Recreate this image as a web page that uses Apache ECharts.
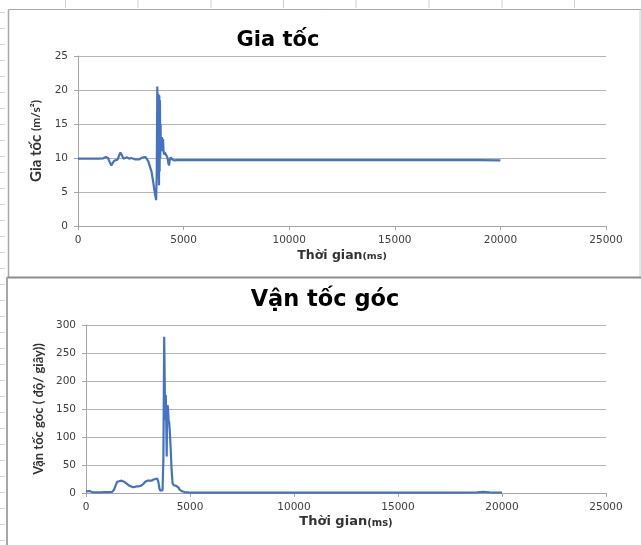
<!DOCTYPE html>
<html>
<head>
<meta charset="utf-8">
<script src="https://cdn.jsdelivr.net/npm/echarts@6/dist/echarts.min.js"></script>
<style>
html,body{margin:0;padding:0;background:#fff;}
#c{width:641px;height:545px;}
</style>
</head>
<body>
<div id="c"></div>
<script>
// ---- Data: Gia tốc (acceleration, m/s²) vs time (ms)
var accTime = [0, 200, 400, 600, 800, 1000, 1200, 1320, 1420, 1500, 1580, 1650, 1720, 1800, 1880, 1950, 2010, 2080, 2150, 2230, 2320, 2420, 2520, 2620, 2720, 2800, 2900, 3000, 3100, 3200, 3260, 3330, 3400, 3480, 3560, 3640, 3700, 3730, 3755, 3775, 3790, 3805, 3820, 3835, 3850, 3865, 3880, 3895, 3910, 3925, 3940, 3960, 3980, 4000, 4025, 4050, 4080, 4110, 4150, 4200, 4240, 4280, 4310, 4340, 4390, 4450, 4550, 4700, 5000, 6000, 7000, 8000, 9000, 10000, 11000, 12000, 13000, 14000, 15000, 16000, 17000, 18000, 19000, 20000];
var accValue = [9.9, 9.9, 9.9, 9.9, 9.9, 9.9, 9.95, 10.15, 10.0, 9.4, 8.9, 9.3, 9.6, 9.5, 9.8, 10.4, 10.8, 10.4, 9.9, 10.0, 10.1, 9.9, 10.0, 9.9, 9.8, 9.7, 9.8, 10.0, 10.1, 10.15, 9.9, 9.5, 8.8, 8.0, 6.5, 4.8, 3.8, 8.0, 20.5, 12.0, 19.5, 7.0, 19.3, 6.0, 19.2, 8.0, 18.5, 10.0, 15.0, 11.0, 13.0, 11.5, 13.1, 11.0, 12.8, 11.0, 10.5, 10.8, 10.7, 10.3, 10.0, 9.2, 8.9, 9.6, 10.1, 9.8, 9.65, 9.7, 9.7, 9.68, 9.7, 9.68, 9.7, 9.68, 9.7, 9.68, 9.68, 9.7, 9.68, 9.68, 9.7, 9.68, 9.68, 9.66];

// ---- Data: Vận tốc góc (angular velocity, độ/giây) vs time (ms)
var angTime = [0, 80, 160, 250, 350, 500, 700, 900, 1100, 1250, 1350, 1430, 1500, 1580, 1680, 1780, 1880, 1960, 2050, 2150, 2250, 2350, 2450, 2550, 2650, 2750, 2850, 2950, 3050, 3150, 3250, 3340, 3420, 3480, 3530, 3580, 3630, 3680, 3720, 3760, 3790, 3810, 3835, 3860, 3880, 3900, 3920, 3945, 3970, 4000, 4030, 4070, 4110, 4160, 4210, 4260, 4320, 4380, 4440, 4500, 4560, 4620, 4700, 4800, 4900, 5000, 6000, 7000, 8000, 9000, 10000, 11000, 12000, 13000, 14000, 15000, 16000, 17000, 18000, 18800, 19100, 19400, 20000];
var angValue = [3, 4, 3.5, 1.5, 1, 1, 1, 1.5, 1.5, 2, 6, 14, 20, 21, 22, 21, 19, 17, 14, 12, 10.5, 11, 12, 12, 13, 16, 20, 22, 22, 22, 24, 26, 26, 20, 8, 4, 6, 5, 60, 279, 180, 130, 175, 120, 65, 140, 157, 150, 130, 125, 110, 80, 45, 18, 14, 15, 13, 14, 10, 6, 3, 3, 2, 1, 1, 0.5, 0.5, 0.5, 0.8, 0.5, 0.5, 0.6, 0.5, 0.5, 0.5, 0.5, 0.5, 0.6, 0.5, 1.0, 2.0, 1.0, 0.8];

// ---- Axis ticks
var xMax = 25000, xStep = 5000;
var accMax = 25, accStep = 5;
var angMax = 300, angStep = 50;

function pairs(t, v) { return t.map(function (x, i) { return [x, v[i]]; }); }

var LINE = '#4472C4';
var WIDE = '"DejaVu Sans", Verdana, sans-serif';
var NARROW = 'Lato, "Open Sans", sans-serif';
var labelStyle = { color: '#404040', fontSize: 10.5, fontFamily: WIDE, formatter: function (v) { return String(v); } };
var gridLine = { show: true, lineStyle: { color: '#b4b4b4', width: 1 } };
var axLine = { show: true, lineStyle: { color: '#a6a6a6', width: 1 } };
var axTick = { show: true, length: 4, lineStyle: { color: '#a6a6a6' } };

// decorative spreadsheet frame
var deco = [];
[65.5, 138, 211, 283.5, 356, 429, 502, 574.5].forEach(function (x) {
  deco.push({ type: 'line', shape: { x1: x, y1: 0, x2: x, y2: 8 }, style: { stroke: '#cfcfcf', lineWidth: 1 } });
});
for (var y = 12.5; y < 545; y += 16) {
  deco.push({ type: 'line', shape: { x1: 0, y1: y, x2: 5, y2: y }, style: { stroke: '#d6d6d6', lineWidth: 1 } });
}
deco.push({ type: 'line', shape: { x1: 8.5, y1: 9.5, x2: 641, y2: 9.5 }, style: { stroke: '#a8a8a8', lineWidth: 1 } });
deco.push({ type: 'line', shape: { x1: 8.5, y1: 9.5, x2: 8.5, y2: 277 }, style: { stroke: '#a8a8a8', lineWidth: 1.5 } });
deco.push({ type: 'line', shape: { x1: 640, y1: 9.5, x2: 640, y2: 277 }, style: { stroke: '#d0d0d0', lineWidth: 1 } });
deco.push({ type: 'line', shape: { x1: 7, y1: 277.5, x2: 641, y2: 277.5 }, style: { stroke: '#8e8e8e', lineWidth: 2 } });
deco.push({ type: 'line', shape: { x1: 7, y1: 277, x2: 7, y2: 545 }, style: { stroke: '#a8a8a8', lineWidth: 2 } });

function xName(size, small) {
  return {
    name: '{a|Thời gian}{b|(ms)}', nameLocation: 'middle',
    nameTextStyle: { rich: {
      a: { fontFamily: WIDE, fontWeight: 'bold', fontSize: size, color: '#333' },
      b: { fontFamily: WIDE, fontWeight: 'bold', fontSize: small, color: '#333', padding: [3, 0, 0, 0] } } }
  };
}

var chart = echarts.init(document.getElementById('c'), null, { renderer: 'canvas' });
chart.setOption({
  animation: false,
  backgroundColor: '#ffffff',
  title: [
    { text: 'Gia tốc', left: 273, top: 25, textAlign: 'center',
      textStyle: { fontFamily: WIDE, fontWeight: 'bold', fontSize: 21, color: '#000' } },
    { text: 'Vận tốc góc', left: 320, top: 284, textAlign: 'center',
      textStyle: { fontFamily: WIDE, fontWeight: 'bold', fontSize: 22.5, color: '#000' } }
  ],
  grid: [
    { left: 78, top: 56, width: 528, height: 170 },
    { left: 86, top: 325, width: 520, height: 168 }
  ],
  xAxis: [
    Object.assign({ type: 'value', gridIndex: 0, min: 0, max: xMax, interval: xStep,
      axisLine: axLine, axisTick: axTick, splitLine: { show: false },
      axisLabel: Object.assign({ margin: 9 }, labelStyle), nameGap: 23 }, xName(12.5, 9.5)),
    Object.assign({ type: 'value', gridIndex: 1, min: 0, max: xMax, interval: xStep,
      axisLine: axLine, axisTick: axTick, splitLine: { show: false },
      axisLabel: Object.assign({ margin: 9 }, labelStyle), nameGap: 22 }, xName(13, 10))
  ],
  yAxis: [
    { type: 'value', gridIndex: 0, min: 0, max: accMax, interval: accStep,
      axisLine: axLine, axisTick: axTick, splitLine: gridLine,
      axisLabel: Object.assign({ margin: 10 }, labelStyle),
      name: '{a|Gia tốc }{b|(m/s²)}', nameLocation: 'middle', nameGap: 29, nameRotate: 90,
      nameTextStyle: { rich: {
        a: { fontFamily: NARROW, fontWeight: 'bold', fontSize: 15, color: '#333' },
        b: { fontFamily: NARROW, fontWeight: 'bold', fontSize: 12, color: '#333' } } } },
    { type: 'value', gridIndex: 1, min: 0, max: angMax, interval: angStep,
      axisLine: axLine, axisTick: axTick, splitLine: gridLine,
      axisLabel: Object.assign({ margin: 10 }, labelStyle),
      name: 'Vận tốc góc ( độ/ giây))', nameLocation: 'middle', nameGap: 36, nameRotate: 90,
      nameTextStyle: { fontFamily: NARROW, fontWeight: 'bold', fontSize: 13, color: '#333' } }
  ],
  series: [
    { type: 'line', xAxisIndex: 0, yAxisIndex: 0, data: pairs(accTime, accValue),
      showSymbol: false, symbol: 'none', lineStyle: { color: LINE, width: 2.2 } },
    { type: 'line', xAxisIndex: 1, yAxisIndex: 1, data: pairs(angTime, angValue),
      showSymbol: false, symbol: 'none', lineStyle: { color: LINE, width: 2.2 } }
  ],
  graphic: deco
});
</script>
</body>
</html>
